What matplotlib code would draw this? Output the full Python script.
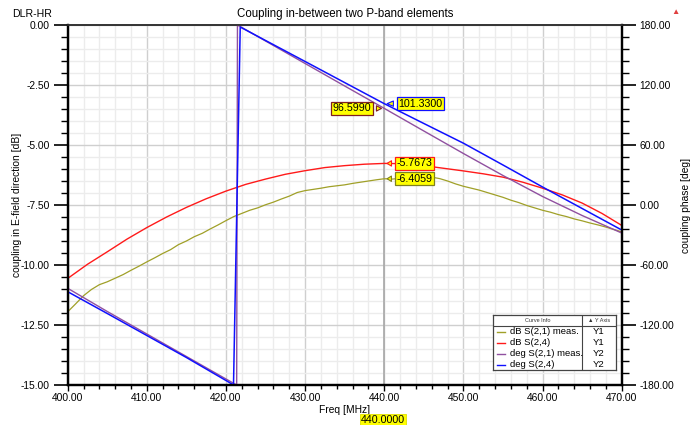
import numpy as np
import matplotlib.pyplot as plt
from matplotlib.ticker import MultipleLocator, FormatStrFormatter
from matplotlib.lines import Line2D

plt.rcParams['font.family'] = ['Liberation Sans', 'DejaVu Sans']

# dB S(2,1) meas. (1 MHz steps, 400..470)
freq_meas = np.arange(400, 471, 1)
db_s21_meas = [-11.95, -11.62, -11.28, -11.02, -10.82, -10.70, -10.55, -10.40, -10.22, -10.05,
               -9.87, -9.70, -9.52, -9.36, -9.15, -9.00, -8.82, -8.68, -8.50, -8.33,
               -8.15, -7.98, -7.85, -7.72, -7.62, -7.49, -7.38, -7.25, -7.13, -6.98,
               -6.90, -6.85, -6.80, -6.74, -6.70, -6.66, -6.60, -6.55, -6.50, -6.45,
               -6.4059, -6.42, -6.39, -6.38, -6.40, -6.36, -6.34, -6.40, -6.50, -6.62,
               -6.72, -6.80, -6.88, -6.98, -7.08, -7.18, -7.30, -7.40, -7.52, -7.62,
               -7.72, -7.80, -7.90, -7.98, -8.08, -8.16, -8.25, -8.33, -8.42, -8.52,
               -8.62]

# dB S(2,4) (2.5 MHz steps)
freq_sim = np.arange(400, 470.1, 2.5)
db_s24 = [-10.56, -9.97, -9.45, -8.92, -8.44, -8.00, -7.60, -7.24, -6.92, -6.64,
          -6.42, -6.22, -6.07, -5.94, -5.86, -5.80, -5.7673, -5.78, -5.86, -5.97,
          -6.08, -6.20, -6.34, -6.55, -6.80, -7.08, -7.42, -7.85, -8.35]

# phase curves (deg), wrap near 421 MHz
freq_ph_meas = [400, 405, 410, 415, 420, 421.35, 421.45, 425, 430, 435, 440, 445, 450, 455, 460, 465, 470]
deg_s21_meas = [-83.3, -106.5, -129.0, -151.5, -174.0, -180.0, 180.0, 164.0, 141.5, 119.0, 96.599,
                74.0, 51.5, 29.5, 8.5, -10.5, -28.0]
freq_ph_sim = [400, 405, 410, 415, 420, 420.95, 421.8, 425, 430, 435, 440, 445, 450, 455, 460, 465, 470]
deg_s24 = [-86.7, -108.5, -130.5, -152.5, -175.5, -180.0, 178.0, 164.5, 143.5, 122.4, 101.33,
           81.5, 61.8, 40.0, 18.0, -3.5, -25.0]

marker_f = 440.0
c_olive = '#a0a028'
c_red = '#ff1a1a'
c_purple = '#9050a0'
c_blue = '#1010ff'

W, H = 692, 425
fig = plt.figure(figsize=(W / 100, H / 100), dpi=100)
ax = fig.add_axes([67.7 / W, 1 - 385 / H, (621.7 - 67.7) / W, 360 / H])
ax2 = ax.twinx()

ax.set_xlim(400, 470)
ax.set_ylim(-15, 0)
ax2.set_ylim(-180, 180)

ax.xaxis.set_major_locator(MultipleLocator(10))
ax.xaxis.set_minor_locator(MultipleLocator(2))
ax.yaxis.set_major_locator(MultipleLocator(2.5))
ax.yaxis.set_minor_locator(MultipleLocator(0.5))
ax2.yaxis.set_major_locator(MultipleLocator(60))
ax2.yaxis.set_minor_locator(MultipleLocator(12))
for a in (ax.xaxis, ax.yaxis, ax2.yaxis):
    a.set_major_formatter(FormatStrFormatter('%.2f'))

ax.grid(which='major', color='#cfcfcf', lw=1.0)
ax.grid(which='minor', color='#ececec', lw=1.0)
ax.set_axisbelow(True)

fs = 7.4
ax.tick_params(axis='y', which='major', direction='out', length=10, width=1.2, labelsize=fs, pad=3)
ax.tick_params(axis='y', which='minor', direction='out', length=5, width=1.0)
ax.tick_params(axis='x', which='major', direction='out', length=4, width=1.0, labelsize=fs, pad=2)
ax.tick_params(axis='x', which='minor', direction='out', length=3, width=1.0)
ax2.tick_params(axis='y', which='major', direction='out', length=10, width=1.2, labelsize=fs, pad=3)
ax2.tick_params(axis='y', which='minor', direction='out', length=5, width=1.0)

for a in (ax, ax2):
    for s in ('left', 'right', 'bottom'):
        a.spines[s].set_linewidth(1.6)
        a.spines[s].set_color('black')
    a.spines['top'].set_linewidth(1.2)
    a.spines['top'].set_color('#333333')

ax.plot(freq_meas, db_s21_meas, color=c_olive, lw=0.9)
ax.plot(freq_sim, db_s24, color=c_red, lw=1.0)
ax2.plot(freq_ph_meas, deg_s21_meas, color=c_purple, lw=1.0)
ax2.plot(freq_ph_sim, deg_s24, color=c_blue, lw=1.1)

ax.axvline(marker_f, color='#a8a8a8', lw=1.2, zorder=1.5)

ax.set_xlabel('Freq [MHz]', fontsize=fs, labelpad=1)
ax.set_ylabel('coupling in E-field direction [dB]', fontsize=fs)
ax.yaxis.set_label_coords((21.7 - 67.7) / 554, 0.5)
ax2.set_ylabel('coupling phase [deg]', fontsize=fs, rotation=90)
ax2.yaxis.set_label_coords((681 - 67.7) / 554, 0.5)
ax.set_title('Coupling in-between two P-band elements', fontsize=8.3, pad=6)
fig.text(12 / W, 1 - 14 / H, 'DLR-HR', fontsize=7.6, va='center', ha='left')
fig.text(675 / W, 1 - 12 / H, '\u25b2', fontsize=6, color='#e04040', ha='center', va='center')


def marker_label(xy, yval, dx, edge, trans):
    ax2.annotate('%.4f' % yval, xy=(xy, yval), xycoords=trans,
                 xytext=(dx, 0), textcoords='offset pixels',
                 ha='center', va='center', fontsize=fs + 0.3, zorder=10,
                 bbox=dict(boxstyle='square,pad=0.15', fc='#ffff00', ec=edge, lw=0.9),
                 arrowprops=dict(arrowstyle='wedge,tail_width=0.5,shrink_factor=0.5',
                                 fc='#ffff00', ec=edge, lw=0.8))


marker_label(marker_f, deg_s24[10], 36, c_blue, ax2.transData)
marker_label(marker_f, deg_s21_meas[10], -32, '#802020', ax2.transData)
marker_label(marker_f, db_s24[16], 30, c_red, ax.transData)
marker_label(marker_f, db_s21_meas[40], 30, '#808020', ax.transData)

fig.text(383 / W, 1 - 420 / H, '%.4f' % marker_f, fontsize=fs + 0.3, ha='center', va='center',
         bbox=dict(boxstyle='square,pad=0.12', fc='#ffff00', ec='#e0e000', lw=0.6))

# legend table
names = ['dB S(2,1) meas.', 'dB S(2,4)', 'deg S(2,1) meas.', 'deg S(2,4)']
colors = [c_olive, c_red, c_purple, c_blue]
y_axes = ['Y1', 'Y1', 'Y2', 'Y2']
lg = fig.add_axes([493 / W, 1 - 370 / H, 123 / W, 55 / H])
lg.set_xlim(0, 1)
lg.set_ylim(0, 55)
lg.set_xticks([])
lg.set_yticks([])
lg.set_facecolor('white')
for s in lg.spines.values():
    s.set_color('#444444')
    s.set_linewidth(0.9)
lg.axhline(44, color='#444444', lw=0.8)
lg.axvline(0.724, color='#444444', lw=0.8)
lg.text(0.36, 49.5, 'Curve Info', fontsize=4, ha='center', va='center', color='#333333')
lg.text(0.86, 49.5, '\u25b2 Y Axis', fontsize=4, ha='center', va='center', color='#333333')
for i, (n, c, yax) in enumerate(zip(names, colors, y_axes)):
    yy = 38.5 - 11 * i
    lg.add_line(Line2D([0.03, 0.10], [yy, yy], color=c, lw=1.0))
    lg.text(0.14, yy, n, fontsize=6.8, ha='left', va='center')
    lg.text(0.862, yy, yax, fontsize=6.8, ha='center', va='center')

fig.savefig('out.png', dpi=100)
